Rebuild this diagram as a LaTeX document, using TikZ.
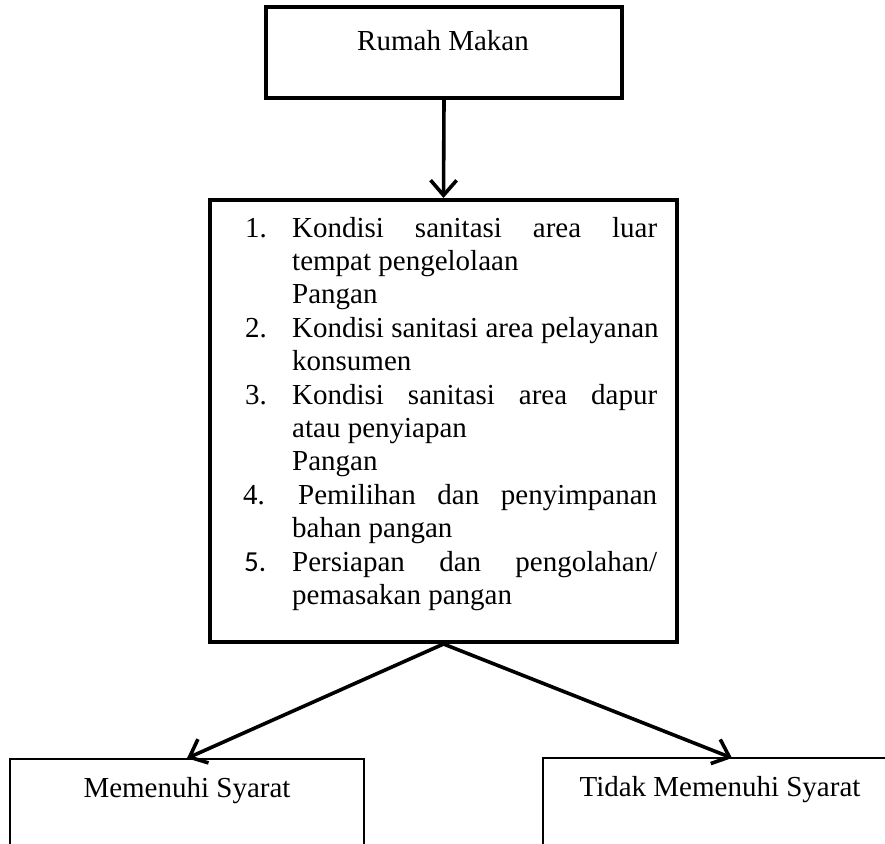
\documentclass[tikz,border=0pt]{standalone}
\usepackage{fontspec}
\setmainfont{Liberation Serif}
\newfontfamily\cfont{Carlito}
\usetikzlibrary{arrows.meta}
\begin{document}
\begin{tikzpicture}[x=1pt,y=-1pt,
  thickbox/.style={draw,line width=4pt,inner sep=0pt,rectangle},
  thinbox/.style={draw,line width=1.5pt,inner sep=0pt,rectangle},
  txt/.style={inner sep=0pt,font=\fontsize{29}{33.4}\selectfont},
  arr/.style={line width=3.6pt,-{Straight Barb[length=15pt,width=26pt]}}]
\useasboundingbox (0,0) rectangle (885,843);
% boxes
\node[thickbox,minimum width=356pt,minimum height=91pt] (top) at (444,52.5) {};
\node[thickbox,minimum width=467pt,minimum height=442pt] (mid) at (443.5,421) {};
\node[thinbox,minimum width=354pt,minimum height=141pt] (left) at (187,829.5) {};
\node[thinbox,minimum width=347pt,minimum height=142pt] (right) at (716.5,829) {};
\coordinate (rtip) at (732,758);
% texts
\node[txt,anchor=base] (ttop) at (443,50) {Rumah Makan};
\node[txt,anchor=base] (tleft) at (187,797) {Memenuhi Syarat};
\node[txt,anchor=base] (tright) at (720,796) {Tidak Memenuhi Syarat};
\node[txt,anchor=base west] (list) at (245,237) {\parbox[t]{430pt}{\setlength{\parindent}{0pt}%
\makebox[47pt][l]{1.}\makebox[365pt][s]{Kondisi sanitasi area luar}\\
\hspace*{47pt}tempat pengelolaan\\
\hspace*{47pt}Pangan\\
\makebox[47pt][l]{2.}Kondisi sanitasi area pelayanan\\
\hspace*{47pt}konsumen\\
\makebox[47pt][l]{3.}\makebox[365pt][s]{Kondisi sanitasi area dapur}\\
\hspace*{47pt}atau penyiapan\\
\hspace*{47pt}Pangan\\
\hspace*{-2pt}\makebox[49pt][l]{4.}\hspace*{6pt}\makebox[359pt][s]{Pemilihan dan penyimpanan}\\
\hspace*{47pt}bahan pangan\\
\hspace*{-1pt}\makebox[48pt][l]{\cfont 5.}\makebox[365pt][s]{Persiapan dan pengolahan/}\\
\hspace*{47pt}pemasakan pangan}};
% connectors
\draw[arr] (top.south) -- (mid.north);
\draw[arr] (mid.south) -- (left.north);
\draw[arr] (mid.south) -- (rtip);
\end{tikzpicture}
\end{document}
